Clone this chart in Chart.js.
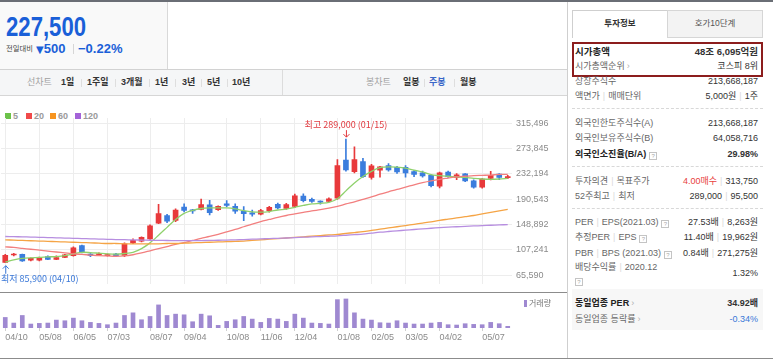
<!DOCTYPE html>
<html>
<head>
<meta charset="utf-8">
<script src="https://cdn.jsdelivr.net/npm/chart.js@4.4.0/dist/chart.umd.min.js"></script>
<style>
body{margin:0;width:773px;height:361px;position:relative;overflow:hidden;background:#fff;
  font-family:"Liberation Sans","Noto Sans CJK KR",sans-serif;color:#333}
.a{position:absolute;white-space:nowrap}
.ln{position:absolute}
.tb{position:absolute;top:70px;height:25px;line-height:25px;font-size:9px;font-weight:bold;color:#333;white-space:nowrap}
.tb.g{color:#a0a0a0;font-weight:normal}
.sep{position:absolute;top:79px;width:1px;height:8px;background:#dedede}
.lg{position:absolute;top:111px;height:10px;line-height:10px;font-size:9px;font-weight:bold;color:#9a9a9a}
.lg i{display:inline-block;width:6px;height:6px;margin-right:2px;vertical-align:0}
.r{position:absolute;left:575px;width:183px;height:12px;line-height:12px;font-size:9px;color:#666;white-space:nowrap}
.r .v{position:absolute;right:0;top:0;color:#333}
.r b{color:#222}
.s{color:#dadada;margin:0 3px}
.q{display:inline-block;width:6px;height:6px;border:1px solid #c4c4c4;font-size:6px;line-height:6px;text-align:center;color:#aaa;vertical-align:-1px;margin-left:3px;font-weight:normal}
.dash{position:absolute;left:572px;width:191px;height:0;border-top:1px dashed #d8d8d8}
.arr{color:#b0b0b0;margin-left:2px;font-weight:normal}
canvas{position:absolute;left:0}
</style>
</head>
<body>
<!-- top frame -->
<div class="ln" style="left:0;top:0;width:773px;height:2px;background:#6a6e75"></div>
<div class="ln" style="left:0;top:2px;width:167px;height:67px;background:#f9f9f9;border-right:1px solid #d9d9d9"></div>
<div class="ln" style="left:0;top:69px;width:567px;height:1px;background:#d2d2d2"></div>

<!-- price header -->
<div class="a" style="left:6px;top:13.8px;font-size:27px;line-height:27px;font-weight:bold;color:#1a5fd8;transform:scaleX(0.82);transform-origin:0 0">227,500</div>
<div class="a" style="left:6px;top:42px;height:14px;line-height:14px;font-size:7.3px;color:#444">전일대비</div>
<div class="a" style="left:36px;top:42px;height:14px;line-height:14px;font-size:13px;font-weight:bold;color:#1a5fd8"><span style="font-family:'DejaVu Sans';font-size:10px;font-weight:normal">▼</span>500</div>
<div class="ln" style="left:73px;top:44px;width:1px;height:10px;background:#d6d6d6"></div>
<div class="a" style="left:78px;top:42px;height:14px;line-height:14px;font-size:13px;font-weight:bold;color:#1a5fd8">−0.22%</div>

<!-- toolbar -->
<div class="ln" style="left:0;top:70px;width:567px;height:25px;background:#f5f6f7;border-bottom:1px solid #d6d6d6"></div>
<div class="ln" style="left:282px;top:70px;width:1px;height:25px;background:#dcdcdc"></div>
<span class="tb g" style="left:27px">선차트</span>
<span class="tb" style="left:61px">1일</span><i class="sep" style="left:81px"></i>
<span class="tb" style="left:87px">1주일</span><i class="sep" style="left:115px"></i>
<span class="tb" style="left:121px">3개월</span><i class="sep" style="left:149px"></i>
<span class="tb" style="left:155px">1년</span><i class="sep" style="left:175px"></i>
<span class="tb" style="left:182px">3년</span><i class="sep" style="left:201px"></i>
<span class="tb" style="left:207px">5년</span><i class="sep" style="left:227px"></i>
<span class="tb" style="left:232px">10년</span>
<span class="tb g" style="left:366px">봉차트</span>
<span class="tb" style="left:403px">일봉</span><i class="sep" style="left:424px"></i>
<span class="tb" style="left:429px;color:#3a67c8">주봉</span><i class="sep" style="left:454px"></i>
<span class="tb" style="left:460px">월봉</span>

<!-- MA legend -->
<div class="lg" style="left:5px"><i style="background:#6cc24a"></i>5</div>
<div class="lg" style="left:26px"><i style="background:#f04a4a"></i>20</div>
<div class="lg" style="left:50px"><i style="background:#f7941e"></i>60</div>
<div class="lg" style="left:75px"><i style="background:#a463d8"></i>120</div>

<canvas id="price" width="567" height="193" style="top:100px"></canvas>
<canvas id="vol" width="567" height="65" style="top:293px"></canvas>

<div class="ln" style="left:0;top:292px;width:567px;height:1px;background:#8c8c8c"></div>
<div class="a" style="left:524px;top:299px;height:10px;line-height:10px;font-size:8px;color:#777"><span style="display:inline-block;width:3px;height:7px;background:#9f89d1;margin-right:2px;vertical-align:-1px"></span>거래량</div>

<!-- right panel -->
<div class="ln" style="left:567px;top:2px;width:1px;height:357px;background:#cfcfcf"></div>
<div class="ln" style="left:0;top:358px;width:773px;height:1px;background:#8c8c8c"></div>

<div class="ln" style="left:572px;top:10px;width:94px;height:27px;border:1px solid #cfcfcf;border-bottom:none;background:#fff"></div>
<div class="ln" style="left:667px;top:10px;width:94px;height:26px;border:1px solid #d6d6d6;background:#f3f3f3"></div>
<div class="a" style="left:572px;top:10px;width:96px;height:27px;line-height:27px;text-align:center;font-size:8.5px;font-weight:bold;color:#333">투자정보</div>
<div class="a" style="left:667px;top:10px;width:96px;height:27px;line-height:27px;text-align:center;font-size:8.5px;color:#555">호가10단계</div>

<div class="ln" style="left:572px;top:42px;width:187px;height:31px;border:2px solid #8c1d1d"></div>
<div class="r" style="top:45.7px;font-size:9.5px"><b>시가총액</b><b class="v">48조 6,095억원</b></div>
<div class="r" style="top:59.7px">시가총액순위<span class="arr">›</span><span class="v">코스피 8위</span></div>
<div class="r" style="top:74.7px">상장주식수<span class="v">213,668,187</span></div>
<div class="r" style="top:90px">액면가<span class="s">|</span>매매단위<span class="v">5,000원<span class="s">|</span>1주</span></div>
<div class="dash" style="top:108px"></div>
<div class="r" style="top:117.3px">외국인한도주식수(A)<span class="v">213,668,187</span></div>
<div class="r" style="top:132.3px">외국인보유주식수(B)<span class="v">64,058,716</span></div>
<div class="r" style="top:147.5px"><b>외국인소진율(B/A)</b><span class="q">?</span><b class="v">29.98%</b></div>
<div class="dash" style="top:165.5px"></div>
<div class="r" style="top:174.5px">투자의견<span class="s">|</span>목표주가<span class="v"><span style="color:#e8413e">4.00매수</span><span class="s">|</span>313,750</span></div>
<div class="r" style="top:189.5px">52주최고<span class="s">|</span>최저<span class="v">289,000<span class="s">|</span>95,500</span></div>
<div class="dash" style="top:207.5px"></div>
<div class="r" style="top:216px">PER<span class="s">|</span>EPS(2021.03)<span class="q">?</span><span class="v">27.53배<span class="s">|</span>8,263원</span></div>
<div class="r" style="top:231px">추정PER<span class="s">|</span>EPS<span class="q">?</span><span class="v">11.40배<span class="s">|</span>19,962원</span></div>
<div class="r" style="top:246.5px">PBR<span class="s">|</span>BPS (2021.03)<span class="q">?</span><span class="v">0.84배<span class="s">|</span>271,275원</span></div>
<div class="r" style="top:260.5px">배당수익률<span class="s">|</span>2020.12</div>
<div class="r" style="top:273.5px"><span class="q" style="margin-left:0">?</span></div>
<div class="r" style="top:266.7px"><span class="v">1.32%</span></div>
<div class="ln" style="left:572px;top:289px;width:191px;height:41px;background:#f7f7f7"></div>
<div class="r" style="top:296.7px"><b>동일업종 PER</b><span class="arr">›</span><b class="v">34.92배</b></div>
<div class="r" style="top:313px">동일업종 등락률<span class="arr">›</span><span class="v" style="color:#3a78d8">-0.34%</span></div>

<script>
// weekly candles, 2020-04-10 .. 2021-05-28
const weeks = ['04/10','04/17','04/24','04/29','05/08','05/15','05/22','05/29','06/05','06/12',
  '06/19','06/26','07/03','07/10','07/17','07/24','07/31','08/07','08/14','08/21',
  '08/28','09/04','09/11','09/18','09/25','09/29','10/08','10/16','10/23','10/30',
  '11/06','11/13','11/20','11/27','12/04','12/11','12/18','12/24','12/30','01/08',
  '01/15','01/22','01/29','02/05','02/10','02/19','02/26','03/05','03/12','03/19',
  '03/26','04/02','04/09','04/16','04/23','04/30','05/07','05/14','05/21','05/28'];
const tickWeeks = ['04/10','05/08','06/05','07/03','08/07','09/04','10/08','11/06','12/04',
  '01/08','02/05','03/05','04/02','05/07'];
const priceTicks = [65590, 107241, 148892, 190543, 232194, 273845, 315496];

const open = [86500,98500,99500,90000,90000,96000,91500,94500,97500,114000,
  100000,99000,97500,100000,98000,118500,121500,125000,151000,163500,
  155500,177500,173000,173500,181000,173000,182500,178500,170500,168000,
  165500,171500,182000,175000,178500,195500,190000,187000,186500,192000,
  254500,235500,252000,226000,238000,245500,242500,242500,235500,233500,
  229500,211500,235000,226000,232000,220500,210000,224500,231500,225500];
const high = [99500,101500,100000,94000,95000,97000,97000,99500,112000,115000,
  101000,102000,100500,101500,118500,125000,128500,148000,182000,165500,
  174500,182500,173500,190500,188500,179500,188000,182500,178000,172500,
  173500,178500,184000,183500,198500,199000,192000,187500,192500,255500,
  289000,276500,257500,247500,244500,249000,244500,245500,237500,236500,
  230500,235000,236500,232500,232500,222000,224500,236000,232500,229500];
const low = [85900,97000,88000,89000,89000,91000,91000,94000,96500,102000,
  96000,97500,96500,96000,96000,117000,120000,124000,150000,151500,
  153500,169500,167000,172500,164500,172000,178000,167000,155000,162500,
  164500,169000,174500,173500,176500,186000,185000,182000,186000,190000,
  236500,233500,226000,223000,226500,236500,232500,226500,227500,226500,
  210500,209000,226000,222500,219000,208500,208500,222000,222500,224000];
const close = [98000,100000,89000,93000,94000,91500,94500,99000,110500,103000,
  98000,100500,99000,97500,117000,122500,127500,146500,166500,154000,
  172500,172000,171000,181500,168000,178500,180000,170500,166500,165500,
  171500,177000,176000,181500,196000,188000,186500,185500,191000,245500,
  238500,255500,227500,245000,243500,238500,235000,233500,231000,228500,
  212500,233500,227500,230500,220500,210000,223500,229500,226000,227500];

const ma5 = [87000,90500,93000,94000,94500,95500,96000,97500,100500,103000,
  102500,101500,100500,100000,101000,103000,109000,118500,131000,144000,
  157000,167000,172000,175000,176000,176000,176000,174500,171500,169500,
  169000,170000,172500,174000,177000,180000,182500,183500,185000,191000,
  204000,217000,227500,236000,242000,243500,243000,241500,238000,235000,
  230500,229000,228000,227000,226000,224500,223500,223000,223500,224500];
const ma20 = [112000,111000,109500,108000,106500,105000,103500,102000,100500,99500,
  98500,97500,97000,96500,97000,99000,102000,105500,109000,112500,
  116000,119000,122500,126000,129000,132500,136500,140500,145000,149500,
  153500,157000,160500,163500,166000,168500,171000,173000,175500,178500,
  182500,186000,190000,194000,198500,202500,206500,210000,214000,217500,
  220500,223000,225000,227000,228000,229000,229500,230000,231000,231000];
const ma60 = [123500,123000,122500,122000,121500,121000,120500,120000,119500,119000,
  118500,118000,117500,117500,117000,117000,117000,117000,117000,117500,
  117500,118000,118500,119000,119500,120000,120500,121000,121500,122500,
  123500,124500,125500,126500,127500,128500,129500,130500,131500,132500,
  134000,135500,137000,139000,141000,143000,145000,147000,149000,151000,
  153000,155500,157500,159500,161500,163500,166000,168500,171000,173500];
const ma120 = [129000,128700,128400,128000,127600,127200,126800,126400,126000,125600,
  125200,124800,124400,124000,123700,123400,123100,122800,122600,122400,
  122300,122200,122200,122300,122500,122800,123100,123500,124000,124500,
  125000,125500,126000,126500,127200,127800,128400,128900,129400,130000,
  131000,132000,133000,134500,136000,137200,138300,139400,140500,141500,
  142500,143500,144300,145000,145700,146300,146900,147500,148000,148500];
// weekly volume, thousand shares
const volume = [16000,7500,19000,6000,7000,7500,12000,11000,15000,11000,
  8500,7000,5000,7500,19000,23000,12500,17500,35000,19000,
  21000,20000,9500,21000,18500,4000,10000,12500,17500,13500,
  8500,14500,13500,10000,21000,15000,7500,7000,6000,43000,
  44000,23000,13500,12000,8000,7500,11000,7500,6000,6000,
  7500,8500,5000,4500,6500,5500,5000,8500,6500,2500];

const UP = '#e8393b', DOWN = '#3b7ddd';
const candleColor = close.map((c, i) => c >= open[i] ? UP : DOWN);
const fmt = v => v.toLocaleString('en-US');
const isTick = i => tickWeeks.includes(weeks[i]);

Chart.defaults.font.family = '"Liberation Sans", Arial, sans-serif';
Chart.defaults.font.size = 9;
Chart.defaults.color = '#8a8a8a';

const marks = {
  id: 'marks',
  afterDatasetsDraw(chart) {
    const {ctx, chartArea, scales: {x, y}} = chart;
    const hiVal = Math.max(...high), hiIdx = high.indexOf(hiVal);
    const loVal = Math.min(...low), loIdx = low.indexOf(loVal);
    ctx.save();
    ctx.font = '9px "Noto Sans CJK KR", sans-serif';
    ctx.textBaseline = 'middle';
    ctx.lineWidth = 1;

    // high
    let px = x.getPixelForValue(hiIdx), py = y.getPixelForValue(hiVal);
    let txt = '최고 ' + fmt(hiVal) + ' (' + weeks[hiIdx] + ')';
    ctx.fillStyle = ctx.strokeStyle = '#e0393e';
    ctx.textAlign = 'center';
    ctx.fillText(txt, px, py - 15);
    ctx.beginPath(); ctx.moveTo(px + 0.5, py - 9); ctx.lineTo(px + 0.5, py - 2); ctx.stroke();
    ctx.beginPath(); ctx.moveTo(px - 2.5, py - 5); ctx.lineTo(px + 0.5, py - 2); ctx.lineTo(px + 3.5, py - 5); ctx.stroke();

    // low
    px = x.getPixelForValue(loIdx); py = y.getPixelForValue(loVal);
    txt = '최저 ' + fmt(loVal) + ' (' + weeks[loIdx] + ')';
    ctx.fillStyle = ctx.strokeStyle = '#3a78d8';
    const w = ctx.measureText(txt).width;
    let tx = px - w / 2;
    if (tx < chartArea.left) tx = chartArea.left;
    ctx.textAlign = 'left';
    ctx.fillText(txt, tx, py + 16);
    ctx.beginPath(); ctx.moveTo(px + 0.5, py + 11); ctx.lineTo(px + 0.5, py + 3); ctx.stroke();
    ctx.beginPath(); ctx.moveTo(px - 2.5, py + 6); ctx.lineTo(px + 0.5, py + 3); ctx.lineTo(px + 3.5, py + 6); ctx.stroke();
    ctx.restore();
  }
};

const maLine = (data, color) => ({
  type: 'line', data, borderColor: color, borderWidth: 1.3,
  pointRadius: 0, tension: 0.3, order: 0
});

new Chart(document.getElementById('price'), {
  type: 'bar',
  data: {
    labels: weeks,
    datasets: [
      maLine(ma120, '#b78ee0'),
      maLine(ma60, '#f5a445'),
      maLine(ma20, '#f27f7f'),
      maLine(ma5, '#8fd16c'),
      {data: open.map((o, i) => [o, close[i]]), backgroundColor: candleColor,
        barThickness: 5, minBarLength: 1, grouped: false, order: 1},
      {data: low.map((l, i) => [l, high[i]]), backgroundColor: candleColor,
        barThickness: 1, grouped: false, order: 2}
    ]
  },
  options: {
    responsive: false, animation: false,
    layout: {padding: {top: 18, left: 1, right: 0, bottom: 0}},
    plugins: {legend: {display: false}, tooltip: {enabled: false}},
    scales: {
      x: {
        offset: true,
        ticks: {display: false},
        grid: {offset: false, drawTicks: false, color: c => isTick(c.index) ? '#ededed' : 'rgba(0,0,0,0)'},
        border: {display: false}
      },
      y: {
        position: 'right',
        min: 51560, max: 323740,
        afterBuildTicks: s => { s.ticks = priceTicks.map(v => ({value: v})); },
        afterFit: s => { s.width = 55; },
        ticks: {padding: 4, callback: v => fmt(v)},
        grid: {color: '#ededed', drawTicks: false},
        border: {display: false}
      }
    }
  },
  plugins: [marks]
});

new Chart(document.getElementById('vol'), {
  type: 'bar',
  data: {
    labels: weeks,
    datasets: [{data: volume, backgroundColor: '#9f89d1', barThickness: 4}]
  },
  options: {
    responsive: false, animation: false,
    layout: {padding: {top: 3, left: 1, right: 0, bottom: 0}},
    plugins: {legend: {display: false}, tooltip: {enabled: false}},
    scales: {
      x: {
        offset: true,
        afterFit: s => { s.height = 30; },
        ticks: {autoSkip: false, maxRotation: 0, align: 'start', padding: 1,
          callback: (v, i) => isTick(i) ? weeks[i] : ''},
        grid: {offset: false, drawOnChartArea: false, tickLength: 3,
          color: c => isTick(c.index) ? '#cfcfcf' : 'rgba(0,0,0,0)'},
        border: {display: false}
      },
      y: {
        position: 'right', min: 0, max: 48500,
        afterFit: s => { s.width = 55; },
        ticks: {display: false},
        grid: {display: false},
        border: {display: false}
      }
    }
  }
});
</script>
</body>
</html>
